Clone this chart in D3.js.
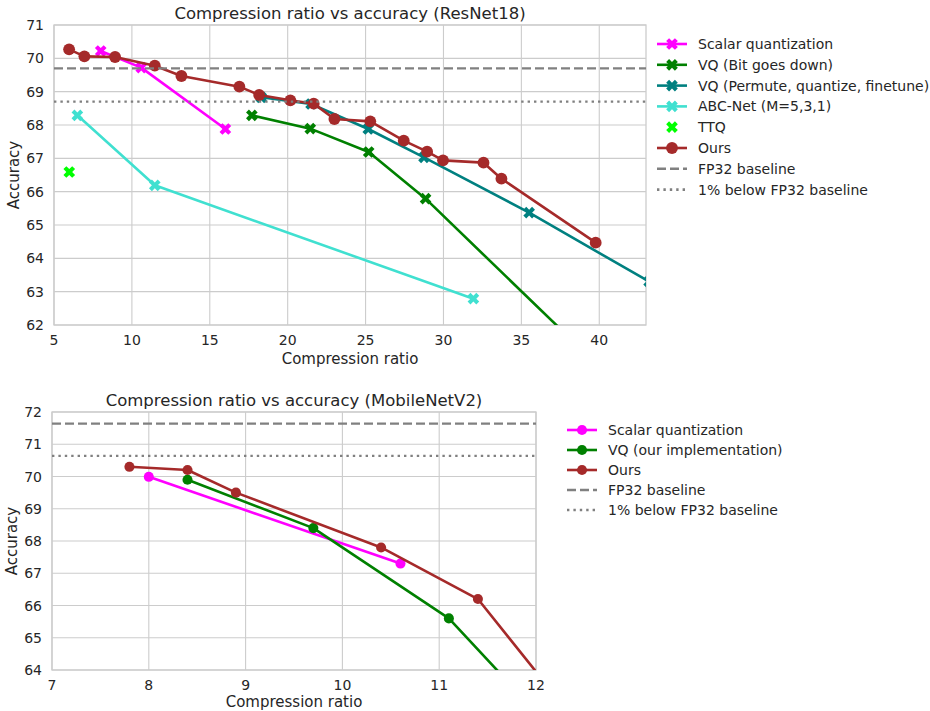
<!DOCTYPE html>
<html>
<head>
<meta charset="utf-8">
<script src="https://cdn.jsdelivr.net/npm/d3@7"></script>
<style>
  body { margin: 0; background: #fff; }
  text { font-family: "DejaVu Sans", sans-serif; fill: #262626; }
</style>
</head>
<body>
<svg id="chart" width="930" height="711"></svg>
<script>
// ---- ResNet18 data ----
var r18Scalar = [[8.0, 70.22], [10.6, 69.72], [16.0, 67.88]];
var r18BitDown = [[17.7, 68.29], [21.45, 67.89], [25.2, 67.19], [28.85, 65.79], [43.0, 59.4]];
var r18Pqf = [[18.3, 68.83], [21.5, 68.63], [25.17, 67.88], [28.75, 67.03], [35.5, 65.37], [43.2, 63.3]];
var r18Abc = [[6.5, 68.29], [11.47, 66.19], [31.92, 62.79]];
var r18Ttq = [[5.98, 66.59]];
var r18Ours = [[5.97, 70.27], [6.95, 70.06], [8.92, 70.04], [11.47, 69.78], [13.18, 69.47], [16.9, 69.15],
               [18.17, 68.9], [20.17, 68.74], [21.67, 68.64], [23.0, 68.18], [25.3, 68.11], [27.45, 67.53],
               [28.95, 67.2], [29.97, 66.94], [32.57, 66.87], [33.72, 66.39], [39.77, 64.47]];
var r18Fp32 = 69.7;

// ---- MobileNetV2 data ----
var mbScalar = [[8.0, 69.99], [10.6, 67.3]];
var mbVq = [[8.4, 69.9], [9.7, 68.4], [11.1, 65.6], [12.0, 62.7]];
var mbOurs = [[7.8, 70.3], [8.4, 70.2], [8.9, 69.5], [10.4, 67.8], [11.4, 66.2], [12.2, 63.2]];
var mbFp32 = 71.64;

var r18XTicks = [5, 10, 15, 20, 25, 30, 35, 40];
var r18YTicks = [62, 63, 64, 65, 66, 67, 68, 69, 70, 71];
var mbXTicks = [7, 8, 9, 10, 11, 12];
var mbYTicks = [64, 65, 66, 67, 68, 69, 70, 71, 72];

var svg = d3.select("#chart");

function drawChart(cfg) {
    var x = d3.scaleLinear().domain(cfg.xDomain).range([cfg.left, cfg.right]);
    var y = d3.scaleLinear().domain(cfg.yDomain).range([cfg.bottom, cfg.top]);
    var g = svg.append("g");

    g.append("clipPath").attr("id", cfg.id)
        .append("rect")
        .attr("x", cfg.left).attr("y", cfg.top)
        .attr("width", cfg.right - cfg.left).attr("height", cfg.bottom - cfg.top);

    // grid
    g.selectAll(".gx").data(cfg.xTicks).enter().append("line")
        .attr("x1", d => x(d)).attr("x2", d => x(d))
        .attr("y1", cfg.top).attr("y2", cfg.bottom)
        .attr("stroke", "#cccccc").attr("stroke-width", 1.1);
    g.selectAll(".gy").data(cfg.yTicks).enter().append("line")
        .attr("x1", cfg.left).attr("x2", cfg.right)
        .attr("y1", d => y(d)).attr("y2", d => y(d))
        .attr("stroke", "#cccccc").attr("stroke-width", 1.1);
    g.append("rect")
        .attr("x", cfg.left).attr("y", cfg.top)
        .attr("width", cfg.right - cfg.left).attr("height", cfg.bottom - cfg.top)
        .attr("fill", "none").attr("stroke", "#cccccc").attr("stroke-width", 1.3);

    // tick labels
    g.selectAll(".tx").data(cfg.xTicks).enter().append("text")
        .attr("x", d => x(d)).attr("y", cfg.bottom + 20)
        .attr("text-anchor", "middle").style("font-size", "14px")
        .text(d => d);
    g.selectAll(".ty").data(cfg.yTicks).enter().append("text")
        .attr("x", cfg.left - 10).attr("y", d => y(d) + 5)
        .attr("text-anchor", "end").style("font-size", "14px")
        .text(d => d);

    // labels
    g.append("text")
        .attr("x", (cfg.left + cfg.right) / 2).attr("y", cfg.top - 6)
        .attr("text-anchor", "middle").style("font-size", "16.5px")
        .text(cfg.title);
    g.append("text")
        .attr("x", (cfg.left + cfg.right) / 2).attr("y", cfg.bottom + cfg.xLabelGap)
        .attr("text-anchor", "middle").style("font-size", "15px")
        .text("Compression ratio");
    g.append("text")
        .attr("transform", "translate(" + (cfg.left - 35) + "," + ((cfg.top + cfg.bottom) / 2) + ") rotate(-90)")
        .attr("text-anchor", "middle").style("font-size", "15px")
        .text("Accuracy");

    var plot = g.append("g").attr("clip-path", "url(#" + cfg.id + ")");
    var line = d3.line().x(d => x(d[0])).y(d => y(d[1]));

    cfg.series.forEach(function(s) {
        if (s.line) {
            plot.append("path").datum(s.data)
                .attr("d", line)
                .attr("fill", "none").attr("stroke", s.color).attr("stroke-width", 2.6)
                .attr("stroke-linejoin", "round");
        }
        plot.selectAll(null).data(s.data).enter().append("path")
            .attr("d", markerPath(s.marker, cfg.markerSize))
            .attr("transform", d => "translate(" + x(d[0]) + "," + y(d[1]) + ")" + (s.marker === "x" ? " rotate(45)" : ""))
            .attr("fill", s.color);
    });

    // baselines
    plot.append("line")
        .attr("x1", cfg.left).attr("x2", cfg.right)
        .attr("y1", y(cfg.fp32)).attr("y2", y(cfg.fp32))
        .attr("stroke", "#808080").attr("stroke-width", 2.4).attr("stroke-dasharray", "9,4");
    plot.append("line")
        .attr("x1", cfg.left).attr("x2", cfg.right)
        .attr("y1", y(cfg.fp32 - 1)).attr("y2", y(cfg.fp32 - 1))
        .attr("stroke", "#808080").attr("stroke-width", 2.4).attr("stroke-dasharray", "2.4,4");

    // legend
    var items = cfg.series.map(s => ({label: s.label, color: s.color, marker: s.marker, line: s.line}))
        .concat([{label: "FP32 baseline", color: "#808080", dash: "9,4"},
                 {label: "1% below FP32 baseline", color: "#808080", dash: "2.4,4"}]);
    var lg = g.selectAll(".leg").data(items).enter().append("g")
        .attr("transform", (d, i) => "translate(" + cfg.legX + "," + (cfg.legY + i * cfg.legStep) + ")");
    lg.filter(d => d.line || d.dash).append("line")
        .attr("x1", 0).attr("x2", 30)
        .attr("stroke", d => d.color).attr("stroke-width", 2.6)
        .attr("stroke-dasharray", d => d.dash || null);
    lg.filter(d => d.marker).append("path")
        .attr("d", d => markerPath(d.marker, cfg.markerSize))
        .attr("transform", d => "translate(15,0)" + (d.marker === "x" ? " rotate(45)" : ""))
        .attr("fill", d => d.color);
    lg.append("text")
        .attr("x", 41).attr("y", 5)
        .style("font-size", "14px")
        .text(d => d.label);
}

function markerPath(type, size) {
    if (type === "x") return d3.symbol().type(d3.symbolCross).size(size.x)();
    return d3.symbol().type(d3.symbolCircle).size(size.o)();
}

drawChart({
    id: "clipTop",
    title: "Compression ratio vs accuracy (ResNet18)",
    left: 54, right: 646, top: 25, bottom: 325,
    xDomain: [5, 43], yDomain: [62, 71],
    xTicks: r18XTicks, yTicks: r18YTicks,
    fp32: r18Fp32,
    xLabelGap: 39,
    markerSize: {x: 85, o: 110},
    legX: 657, legY: 44, legStep: 20.8,
    series: [
        {label: "Scalar quantization", data: r18Scalar, color: "#ff00ff", marker: "x", line: true},
        {label: "VQ (Bit goes down)", data: r18BitDown, color: "#008000", marker: "x", line: true},
        {label: "VQ (Permute, quantize, finetune)", data: r18Pqf, color: "#008080", marker: "x", line: true},
        {label: "ABC-Net (M=5,3,1)", data: r18Abc, color: "#40e0d0", marker: "x", line: true},
        {label: "TTQ", data: r18Ttq, color: "#00ff00", marker: "x", line: false},
        {label: "Ours", data: r18Ours, color: "#a52a2a", marker: "o", line: true}
    ]
});

drawChart({
    id: "clipBottom",
    title: "Compression ratio vs accuracy (MobileNetV2)",
    left: 52, right: 536, top: 412, bottom: 670,
    xDomain: [7, 12], yDomain: [64, 72],
    xTicks: mbXTicks, yTicks: mbYTicks,
    fp32: mbFp32,
    xLabelGap: 37,
    markerSize: {x: 85, o: 80},
    legX: 567, legY: 430, legStep: 20,
    series: [
        {label: "Scalar quantization", data: mbScalar, color: "#ff00ff", marker: "o", line: true},
        {label: "VQ (our implementation)", data: mbVq, color: "#008000", marker: "o", line: true},
        {label: "Ours", data: mbOurs, color: "#a52a2a", marker: "o", line: true}
    ]
});
</script>
</body>
</html>
